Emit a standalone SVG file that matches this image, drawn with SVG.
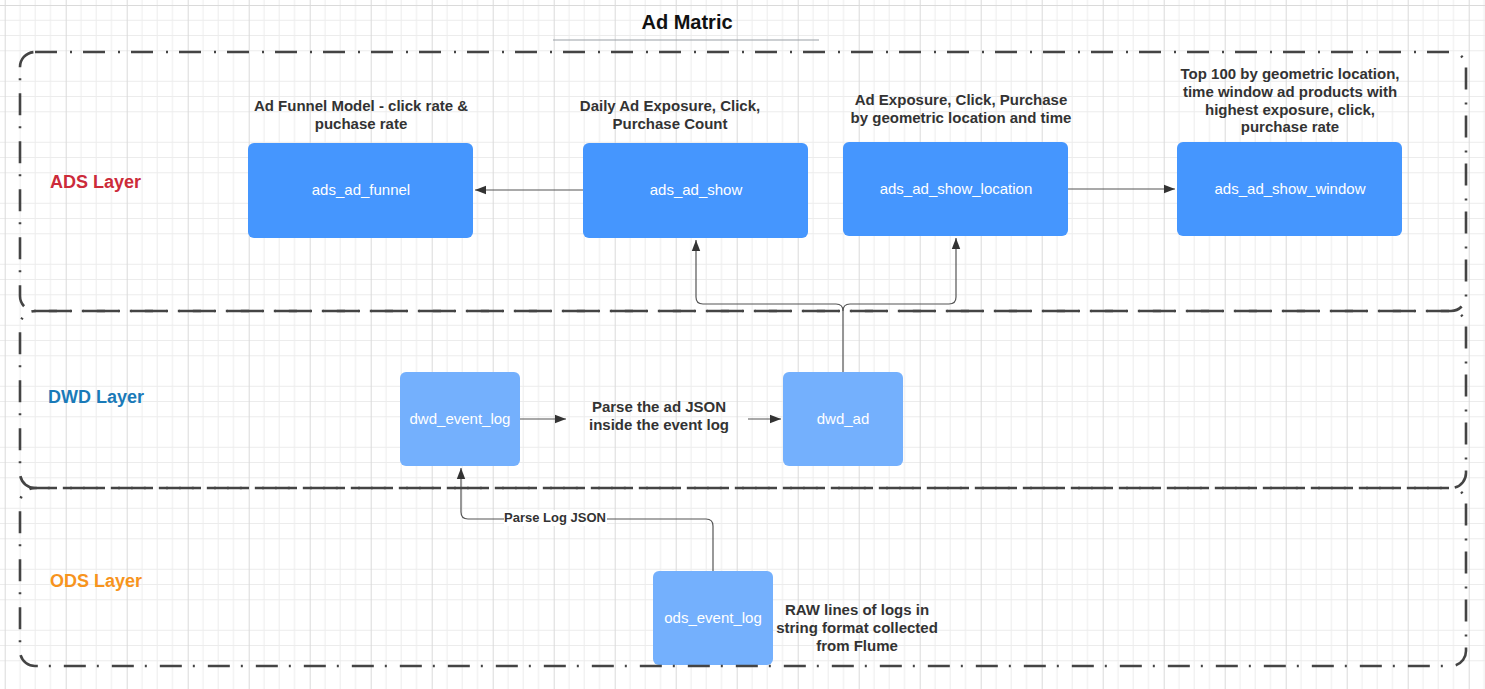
<svg xmlns="http://www.w3.org/2000/svg" width="1485" height="689" viewBox="0 0 1485 689">
<style>
.lbl{font-family:"Liberation Sans",Arial,sans-serif;font-size:15px;font-weight:bold;fill:#333;text-anchor:middle}
.nt{font-family:"Liberation Sans",Arial,sans-serif;font-size:15px;fill:#fff;text-anchor:middle}
.layer{font-family:"Liberation Sans",Arial,sans-serif;font-size:18px;font-weight:bold}
.cont{fill:none;stroke:#444;stroke-width:2.6;stroke-dasharray:22 13 2 11}
.dark{fill:#4596fe}
.light{fill:#74b0fd}
.conn{fill:none;stroke:#555;stroke-width:1.2}
</style>
<defs>
<pattern id="grid" x="4.7" y="5" width="61" height="61" patternUnits="userSpaceOnUse">
<path d="M15.25 0V61M30.5 0V61M45.75 0V61M0 15.25H61M0 30.5H61M0 45.75H61" stroke="#ececec" stroke-width="1" fill="none"/>
<path d="M0.5 0V61M0 0.5H61" stroke="#dadada" stroke-width="1" fill="none"/>
</pattern>
<marker id="arr" markerWidth="12" markerHeight="10" refX="11" refY="5" orient="auto" markerUnits="userSpaceOnUse">
<path d="M0 0.8L11 5L0 9.2Z" fill="#333"/>
</marker>
</defs>
<rect width="1485" height="689" fill="#fff"/>
<rect width="1485" height="689" fill="url(#grid)"/>

<g id="title">
<text x="687" y="29" font-family="Liberation Sans,Arial,sans-serif" font-size="20" font-weight="bold" fill="#111" text-anchor="middle">Ad Matric</text>
<line x1="553" y1="40" x2="819" y2="40" stroke="#9a9fa6" stroke-width="1.2"/>
</g>

<g id="layer-labels">
<text class="layer" x="50" y="188" fill="#cc2b3a">ADS Layer</text>
<text class="layer" x="48" y="403" fill="#1a7ab8">DWD Layer</text>
<text class="layer" x="50" y="587" fill="#f7941d">ODS Layer</text>
</g>

<g id="connectors">
<path class="conn" d="M583 190H475" marker-end="url(#arr)"/>
<path class="conn" d="M1068 189H1175" marker-end="url(#arr)"/>
<path class="conn" d="M843 372V311Q843 304 836 304H703Q696 304 696 297V240" marker-end="url(#arr)"/>
<path class="conn" d="M843 311Q843 304 850 304H949Q956 304 956 297V238" marker-end="url(#arr)"/>
<path class="conn" d="M520 419H566" marker-end="url(#arr)"/>
<path class="conn" d="M748 419H781" marker-end="url(#arr)"/>
<path class="conn" d="M713 571V526Q713 519 706 519H468Q461 519 461 512V468" marker-end="url(#arr)"/>
<rect x="504" y="510" width="103" height="16" fill="#fff"/>
<text x="555" y="522" font-family="Liberation Sans,Arial,sans-serif" font-size="13" font-weight="bold" fill="#333" text-anchor="middle">Parse Log JSON</text>
</g>

<g id="ads_ad_funnel">
<rect class="dark" x="248" y="143" width="225" height="95" rx="6"/>
<text class="nt" x="361" y="195">ads_ad_funnel</text>
<text class="lbl" x="361" y="111">Ad Funnel Model - click rate &amp;</text>
<text class="lbl" x="361" y="129">puchase rate</text>
</g>
<g id="ads_ad_show">
<rect class="dark" x="583" y="143" width="225" height="95" rx="6"/>
<text class="nt" x="696" y="195">ads_ad_show</text>
<text class="lbl" x="670" y="111">Daily Ad Exposure, Click,</text>
<text class="lbl" x="670" y="129">Purchase Count</text>
</g>
<g id="ads_ad_show_location">
<rect class="dark" x="843" y="142" width="225" height="94" rx="6"/>
<text class="nt" x="956" y="194">ads_ad_show_location</text>
<text class="lbl" x="961" y="105">Ad Exposure, Click, Purchase</text>
<text class="lbl" x="961" y="123">by geometric location and time</text>
</g>
<g id="ads_ad_show_window">
<rect class="dark" x="1177" y="142" width="225" height="94" rx="6"/>
<text class="nt" x="1290" y="194">ads_ad_show_window</text>
<text class="lbl" x="1290" y="79">Top 100 by geometric location,</text>
<text class="lbl" x="1290" y="97">time window ad products with</text>
<text class="lbl" x="1290" y="115">highest exposure, click,</text>
<text class="lbl" x="1290" y="132">purchase rate</text>
</g>
<g id="dwd_event_log">
<rect class="light" x="400" y="372" width="120" height="94" rx="6"/>
<text class="nt" x="460" y="424">dwd_event_log</text>
</g>
<g id="parse_ad_json">
<text class="lbl" x="659" y="412">Parse the ad JSON</text>
<text class="lbl" x="659" y="430">inside the event log</text>
</g>
<g id="dwd_ad">
<rect class="light" x="783" y="372" width="120" height="94" rx="6"/>
<text class="nt" x="843" y="424">dwd_ad</text>
</g>
<g id="ods_event_log">
<rect class="light" x="653" y="571" width="120" height="94" rx="6"/>
<text class="nt" x="713" y="623">ods_event_log</text>
<text class="lbl" x="857" y="615">RAW lines of logs in</text>
<text class="lbl" x="857" y="633">string format collected</text>
<text class="lbl" x="857" y="651">from Flume</text>
</g>

<g id="containers">
<rect id="ads-layer" class="cont" x="20" y="52" width="1446" height="259" rx="15"/>
<rect id="dwd-layer" class="cont" x="20" y="311" width="1446" height="177" rx="15"/>
<rect id="ods-layer" class="cont" x="20" y="488" width="1446" height="178" rx="15"/>
</g>
</svg>
